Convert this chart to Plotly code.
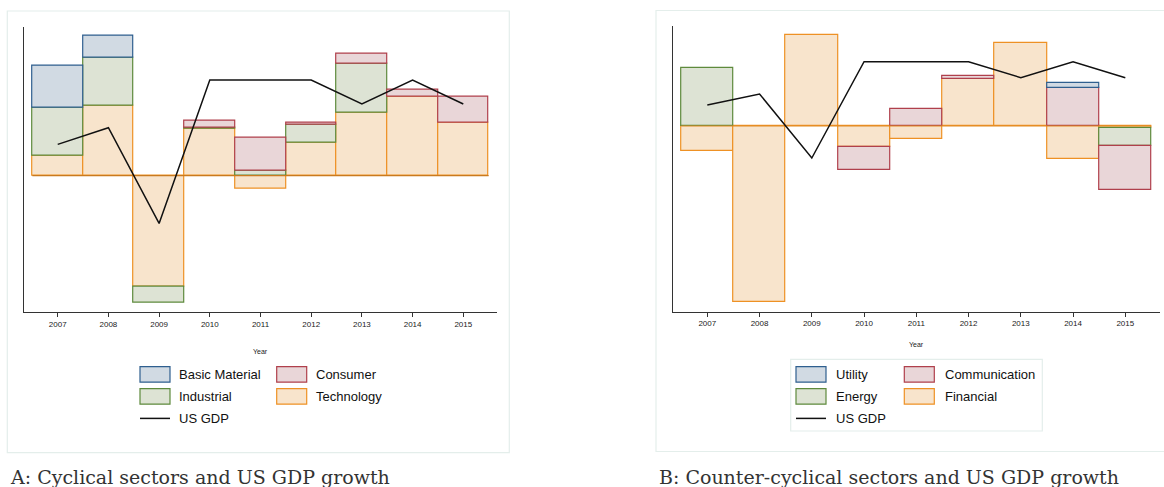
import plotly.graph_objects as go

W, H = 1164, 487

years = [2007, 2008, 2009, 2010, 2011, 2012, 2013, 2014, 2015]

# Panel A: cyclical sectors (values in chart units)
technology_A = [19.7, 70.3, -110.7, 46.7, -13.3, 33.3, 63.3, 79.0, 53.0]
industrial_A = [48.3, 47.7, -16.3, 1.3, 5.0, 18.0, 49.0, 0, 0]
consumer_A = [0, 0, 0, 7.3, 33.3, 2.0, 10.0, 7.3, 26.3]
basic_A = [41.7, 21.7, 0, 0, 0, 0, 0, 0, 0]
gdp_A = [31.3, 48.0, -47.7, 95.7, 95.7, 95.7, 71.7, 95.7, 71.7]

# Panel B: counter-cyclical sectors
financial_B = [-25.0, -176.0, 91.0, -20.7, -13.3, 46.7, 83.3, -32.7, -2.3]
energy_B = [57.7, 0, 0, 0, 0, 0, 0, 0, -17.7]
communication_B = [0, 0, 0, -23.7, 17.3, 3.3, 0, 38.0, -44.0]
utility_B = [0, 0, 0, 0, 0, 0, 0, 4.7, 0]
gdp_B = [21.0, 32.0, -32.0, 64.3, 64.3, 64.3, 48.3, 64.3, 48.3]

captions = ["A: Cyclical sectors and US GDP growth",
            "B: Counter-cyclical sectors and US GDP growth"]

BLUE = ("#d1dae3", "#2f5f8f")
GREEN = ("#dde3d4", "#5e8a3c")
RED = ("#e9d6d8", "#b0404c")
ORANGE = ("#f8e4cc", "#ee9124")

def px(x):
    return x / W

def py(y):
    return 1 - y / H

fig = go.Figure()

# stacking order (bottom first)
panelA = [("Technology", technology_A, ORANGE), ("Industrial", industrial_A, GREEN),
          ("Consumer", consumer_A, RED), ("Basic Material", basic_A, BLUE)]
panelB = [("Financial", financial_B, ORANGE), ("Energy", energy_B, GREEN),
          ("Communication", communication_B, RED), ("Utility", utility_B, BLUE)]

for (name, vals, col), xa, ya in [(p, "x", "y") for p in panelA] + [(p, "x2", "y2") for p in panelB]:
    fig.add_trace(go.Bar(x=years, y=[v if v != 0 else None for v in vals], name=name,
                         xaxis=xa, yaxis=ya,
                         marker=dict(color=col[0], line=dict(color=col[1], width=1.2)),
                         width=1.0, showlegend=False))

for xa, ya, col in [("x", "y", "#c97a1e"), ("x2", "y2", "#e08a22")]:
    fig.add_trace(go.Scatter(x=[years[0] - 0.5, years[-1] + 0.5], y=[0, 0], mode="lines",
                             line=dict(color=col, width=1.2), xaxis=xa, yaxis=ya,
                             showlegend=False, hoverinfo="skip"))

fig.add_trace(go.Scatter(x=years, y=gdp_A, mode="lines", name="US GDP",
                         line=dict(color="#111111", width=1.5), xaxis="x", yaxis="y",
                         showlegend=False))
fig.add_trace(go.Scatter(x=years, y=gdp_B, mode="lines", name="US GDP",
                         line=dict(color="#111111", width=1.5), xaxis="x2", yaxis="y2",
                         showlegend=False))

axis_common = dict(showgrid=False, zeroline=False, showline=True, linecolor="#333333",
                   linewidth=1.2)
xcommon = dict(axis_common, tickmode="array", tickvals=years, ticktext=[str(y) for y in years],
               ticks="outside", ticklen=4, tickcolor="#333333",
               tickfont=dict(family="Liberation Sans", size=8, color="#222222"))
ycommon = dict(axis_common, showticklabels=False, ticks="")

fig.update_layout(
    width=W, height=H, margin=dict(l=0, r=0, t=0, b=0),
    paper_bgcolor="white", plot_bgcolor="rgba(0,0,0,0)",
    barmode="relative", bargap=0, showlegend=False,
    xaxis=dict(xcommon, domain=[px(24.3), px(496.7)], range=[2006.341, 2015.659], anchor="y"),
    yaxis=dict(ycommon, domain=[py(312.3), py(26.7)], range=[-136.6, 149], anchor="x"),
    xaxis2=dict(xcommon, domain=[px(673.3), px(1160)], range=[2006.349, 2015.664], anchor="y2"),
    yaxis2=dict(ycommon, domain=[py(311.7), py(26)], range=[-185.7, 100], anchor="x2"),
)

shapes = []
annotations = []
# panel frames
shapes.append(dict(type="rect", xref="paper", yref="paper", x0=px(7.3), x1=px(509.3),
                   y0=py(452.7), y1=py(11), line=dict(color="#e4eeeb", width=1.2),
                   fillcolor="rgba(0,0,0,0)", layer="below"))
shapes.append(dict(type="rect", xref="paper", yref="paper", x0=px(656), x1=px(1170),
                   y0=py(451.5), y1=py(10.5), line=dict(color="#e4eeeb", width=1.2),
                   fillcolor="rgba(0,0,0,0)", layer="below"))
# right legend frame
shapes.append(dict(type="rect", xref="paper", yref="paper", x0=px(790.7), x1=px(1042.3),
                   y0=py(431), y1=py(359.3), line=dict(color="#e4eeeb", width=1.2),
                   fillcolor="rgba(0,0,0,0)", layer="below"))

# "Year" axis titles
for xref, ypos in [("x domain", 351.7), ("x2 domain", 344)]:
    annotations.append(dict(text="Year", xref=xref, x=0.5, yref="paper", y=py(ypos),
                            showarrow=False, xanchor="center", yanchor="middle",
                            font=dict(family="Liberation Sans", size=7, color="#222222")))

# custom legends (two columns, row-wise)
legendA = [("Basic Material", BLUE), ("Consumer", RED), ("Industrial", GREEN),
           ("Technology", ORANGE), ("US GDP", None)]
legendB = [("Utility", BLUE), ("Communication", RED), ("Energy", GREEN),
           ("Financial", ORANGE), ("US GDP", None)]
for items, x0, colgap, textoff in [(legendA, 140, 136.7, 37), (legendB, 796, 108.3, 38.3)]:
    for i, (label, col) in enumerate(items):
        c, r = i % 2, i // 2
        xs = x0 + c * colgap
        yc = 374.4 + r * 22
        if col is None:
            shapes.append(dict(type="line", xref="paper", yref="paper", x0=px(xs), x1=px(xs + 30),
                               y0=py(yc), y1=py(yc), line=dict(color="#111111", width=1.5)))
        else:
            shapes.append(dict(type="rect", xref="paper", yref="paper", x0=px(xs), x1=px(xs + 30),
                               y0=py(yc + 7.8), y1=py(yc - 7.8), fillcolor=col[0],
                               line=dict(color=col[1], width=1.2)))
        annotations.append(dict(text=label, xref="paper", yref="paper", x=px(xs + textoff),
                                y=py(yc), showarrow=False, xanchor="left", yanchor="middle",
                                font=dict(family="Liberation Sans", size=13, color="#111111")))

# captions
for text, xpos in zip(captions, [8, 656.5]):
    annotations.append(dict(text=text, xref="paper", yref="paper", x=px(xpos), y=py(476.5),
                            showarrow=False, xanchor="left", yanchor="middle",
                            font=dict(family="DejaVu Serif", size=19, color="#333333")))

fig.update_layout(shapes=shapes, annotations=annotations)
fig.write_html("out.html")
